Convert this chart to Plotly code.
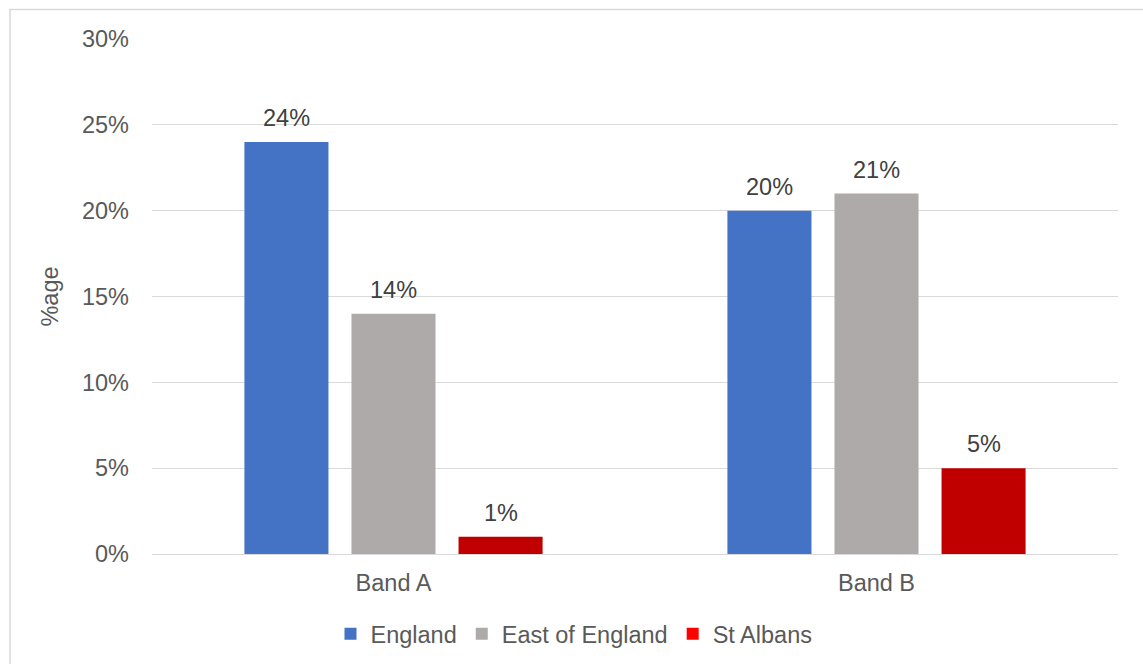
import plotly.graph_objects as go

bands = ["Band A", "Band B"]
england = [24, 20]
east_of_england = [14, 21]
st_albans = [1, 5]

series_names = ["England", "East of England", "St Albans"]
series_values = [england, east_of_england, st_albans]
bar_colors = ["#4472C4", "#AEAAAA", "#C00000"]
legend_colors = ["#4472C4", "#AEAAAA", "#FF0000"]

FONT = "Liberation Sans, Arial, sans-serif"
TEXT_GREY = "#595959"
LABEL_GREY = "#404040"
FS = 23.5
BARGAP = 0.335
BARGROUPGAP = 0.215

fig = go.Figure()

for name, vals, col in zip(series_names, series_values, bar_colors):
    fig.add_trace(go.Bar(
        x=bands, y=vals, name=name,
        marker=dict(color=col, line=dict(width=0)),
        showlegend=False,
    ))

# legend swatches
for name, col in zip(series_names, legend_colors):
    fig.add_trace(go.Scatter(
        x=[None], y=[None], mode="markers", name=name,
        marker=dict(symbol="square", size=12, color=col),
    ))

# value labels above each bar, placed at the bar's centre within its group
n_series = len(series_names)
slot = (1 - BARGAP) / n_series
for j, vals in enumerate(series_values):
    offset = (j - (n_series - 1) / 2) * slot
    for i, v in enumerate(vals):
        fig.add_annotation(
            x=i + offset, y=v, xref="x", yref="y",
            text=f"{v}%", showarrow=False,
            yanchor="bottom", yshift=9,
            font=dict(family=FONT, size=FS, color=LABEL_GREY),
        )

# plot area in pixels: x 152..1118, y 39..554
W, H = 1143, 664
L, R, T, B = 152, 25, 39, 110
pw, ph = W - L - R, H - T - B

def px_x(p):
    return (p - L) / pw

def px_y(p):
    return (H - B - p) / ph

fig.add_shape(type="rect", xref="paper", yref="paper",
              x0=px_x(10), x1=px_x(1160), y0=px_y(680), y1=px_y(9.5),
              line=dict(color="#D9D9D9", width=1.5), fillcolor="rgba(0,0,0,0)",
              layer="below")

fig.update_layout(
    width=W, height=H,
    margin=dict(l=L, r=R, t=T, b=B, autoexpand=False),
    paper_bgcolor="white", plot_bgcolor="white",
    barmode="group", bargap=BARGAP, bargroupgap=BARGROUPGAP,
    font=dict(family=FONT, size=FS, color=TEXT_GREY),
    xaxis=dict(
        showgrid=False, showline=True, linecolor="#D9D9D9", linewidth=1,
        ticks="", tickfont=dict(size=FS, color=TEXT_GREY),
        ticklabelstandoff=8,
    ),
    yaxis=dict(
        range=[0, 30], dtick=5, ticksuffix="%",
        showgrid=True, gridcolor="#D9D9D9", gridwidth=1,
        zeroline=False, showline=False, ticks="",
        ticklabelstandoff=22,
        tickfont=dict(size=FS, color=TEXT_GREY),
        title=dict(text="%age", font=dict(size=FS, color=TEXT_GREY), standoff=16),
    ),
    legend=dict(
        orientation="h", x=px_x(574), xanchor="center",
        y=px_y(634), yanchor="middle",
        font=dict(size=FS, color=TEXT_GREY),
        itemwidth=30,
    ),
)

fig.write_html("out.html")
